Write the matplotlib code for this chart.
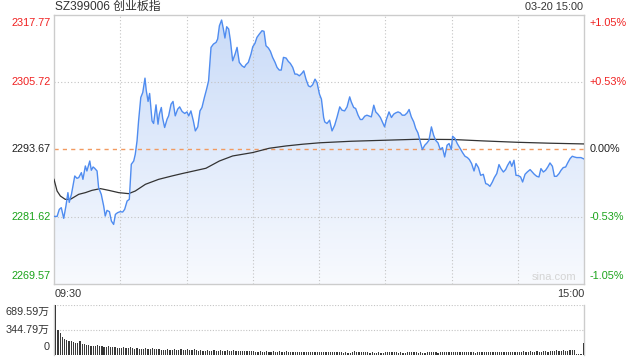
import numpy as np
import matplotlib
matplotlib.use("Agg")
import matplotlib.pyplot as plt
from matplotlib.colors import LinearSegmentedColormap
from matplotlib.patches import Polygon
import matplotlib.transforms as mtransforms

plt.rcParams['font.family'] = ['Liberation Sans', 'Noto Sans CJK SC', 'DejaVu Sans']

title = "SZ399006 创业板指"
stamp = "03-20 15:00"
prev_close = 2293.67
price_ticks = [2269.57, 2281.62, 2293.67, 2305.72, 2317.77]
price_tick_labels = ["2269.57", "2281.62", "2293.67", "2305.72", "2317.77"]
pct_tick_labels = ["-1.05%", "-0.53%", "0.00%", "+0.53%", "+1.05%"]
time_labels = ["09:30", "15:00"]

minute_idx = [
    0, 1.4, 2.4, 3.3, 4.4, 5.4, 6.3, 6.9, 7.9, 9.4, 10.4, 11.2, 12.4, 13.1, 14.2, 14.9, 16.2, 16.9, 17.7, 18.4,
    19.5, 20.2, 21.4, 22.5, 23.2, 24.0, 25.1, 26.0, 27.0, 27.8, 28.8, 30.0, 31.1, 32.0, 33.1, 34.1, 35.0, 36.1, 36.8, 37.6,
    38.3, 39.3, 40.2, 41.2, 41.8, 42.6, 43.3, 44.4, 45.1, 46.2, 47.1, 47.7, 48.6, 49.2, 50.1, 51.2, 51.9, 53.0, 53.9, 54.9,
    56.0, 56.9, 58.0, 59.2, 60.2, 61.0,
    62.0, 63.1, 64.0, 65.1, 66.1, 67.0, 68.1, 69.1, 70.0, 71.1, 72.2, 73.4, 74.1, 74.9, 75.9, 76.7, 77.4, 78.2, 79.1, 79.9,
    80.9, 82.0, 82.9, 83.9, 85.1, 86.2, 86.9, 88.0, 89.2, 90.0, 91.0, 91.9, 93.0, 94.2, 95.1, 96.0, 97.1, 98.0, 99.0, 100.1,
    101.0, 102.0, 102.9, 103.9, 105.1, 106.1, 107.0, 108.1, 109.1, 110.0, 111.1, 112.2, 113.1, 114.1, 115.2, 116.1, 117.1,
    118.2, 119.1, 120.2, 121.1, 122.1,
    122.6, 123.6, 124.8, 125.9, 127.1, 128.2, 129.4, 130.4, 131.6, 132.7, 133.9, 134.6, 135.7, 136.6, 137.7, 138.7, 139.6,
    140.7, 141.7, 142.9, 143.7, 144.8, 145.7, 146.7, 147.8, 148.7, 149.7, 150.5, 151.7, 152.8, 153.8, 154.7, 155.8, 156.8,
    157.7, 158.8, 159.9, 160.8, 161.8, 162.9, 163.8, 164.8, 165.9, 166.8, 167.9, 168.9, 169.8, 170.9, 171.9, 172.8, 173.9,
    174.9, 175.9, 176.9, 178.0, 178.9, 179.9,
    180.5, 181.6, 182.6, 183.9, 185.1, 186.1, 187.2, 188.1, 189.1, 190.2, 191.1, 192.2, 193.2, 194.4, 195.5, 196.4, 197.4,
    198.5, 199.4, 200.5, 201.5, 202.4, 203.5, 204.5, 205.4, 206.5, 207.3, 208.3, 209.2, 210.3, 211.3, 212.2, 213.3, 214.3,
    215.6, 216.6, 217.5, 218.6, 219.6, 220.5, 221.6, 222.6, 223.6, 224.6, 225.7, 226.6, 227.6, 228.7, 229.6, 230.6, 231.7,
    232.6, 233.7, 234.7, 235.6, 236.7, 237.7, 238.6, 240.0,
]

price = [
    2281.66, 2281.66, 2282.92, 2283.22, 2281.31, 2283.51, 2285.91, 2284.17, 2285.61, 2288.89,
    2288.47, 2288.60, 2289.49, 2288.29, 2290.68, 2289.78, 2291.57, 2289.91, 2290.50, 2290.27,
    2289.78, 2286.81, 2285.61, 2283.51, 2281.72, 2282.74, 2282.51, 2280.82, 2280.23, 2282.02,
    2282.33, 2282.51, 2282.44, 2282.92, 2284.41, 2284.71, 2290.98, 2291.57, 2292.77, 2295.16,
    2298.74, 2302.93, 2303.83, 2306.39, 2304.12, 2302.22, 2303.65, 2298.74, 2298.28, 2301.61,
    2298.15, 2299.94, 2301.14, 2299.22, 2297.56, 2299.05, 2299.64, 2301.73, 2302.22, 2299.64,
    2300.84, 2301.25, 2300.43, 2300.07, 2300.35, 2299.64,
    2300.53, 2298.74, 2296.95, 2297.67, 2300.53, 2301.14, 2302.93, 2304.42, 2305.91, 2311.89,
    2312.48, 2312.79, 2313.38, 2315.76, 2316.78, 2315.17, 2313.56, 2315.58, 2315.17, 2313.08,
    2309.49, 2310.69, 2311.89, 2309.21, 2308.60, 2308.31, 2308.78, 2309.21, 2310.69, 2312.00,
    2312.61, 2313.68, 2314.28, 2314.87, 2314.76, 2312.18, 2311.77, 2311.18, 2310.10, 2309.21,
    2308.31, 2307.83, 2307.83, 2310.10, 2309.98, 2309.38, 2309.03, 2308.31, 2307.11, 2307.11,
    2306.80, 2307.23, 2307.70, 2306.21, 2305.01, 2304.83, 2305.19, 2306.21, 2305.62, 2303.53,
    2302.63, 2299.35,
    2298.56, 2298.28, 2298.87, 2296.95, 2297.97, 2299.46, 2301.25, 2300.66, 2300.53, 2301.25,
    2303.04, 2302.15, 2301.14, 2300.96, 2299.76, 2298.99, 2298.99, 2299.58, 2299.76, 2299.58,
    2299.46, 2301.55, 2300.35, 2299.94, 2299.35, 2298.56, 2297.67, 2298.99, 2300.35, 2299.35,
    2299.94, 2300.17, 2300.35, 2300.17, 2299.76, 2299.76, 2300.17, 2300.78, 2299.46, 2298.56,
    2297.38, 2296.59, 2294.98, 2293.62, 2294.39, 2294.80, 2295.28, 2297.67, 2296.18, 2295.28,
    2294.80, 2293.62, 2293.97, 2292.29, 2294.39, 2294.69, 2293.62,
    2296.00, 2295.59, 2294.69, 2293.80, 2293.01, 2292.42, 2292.18, 2291.82, 2291.11, 2289.78,
    2291.11, 2290.39, 2289.01, 2289.19, 2287.52, 2287.40, 2287.04, 2287.81, 2288.60, 2289.32,
    2290.93, 2290.21, 2289.60, 2290.03, 2290.80, 2291.52, 2290.62, 2291.70, 2289.01, 2288.96,
    2288.71, 2287.81, 2289.19, 2289.60, 2290.03, 2289.60, 2289.19, 2288.83, 2288.71, 2290.21,
    2289.60, 2289.91, 2290.50, 2291.22, 2290.62, 2288.83, 2288.83, 2289.32, 2289.91, 2290.39,
    2290.50, 2291.22, 2292.00, 2292.42, 2292.29, 2292.18, 2292.18, 2292.18, 2291.93,
]

avg_minute = [0, 1.4, 2.9, 5.1, 7.4, 11.2, 14.2, 17.2, 21.0, 24.8, 29.3, 33.8, 36.8, 41.4, 47.4, 53.4, 58.0,
              68.8, 74.9, 80.9, 90.0, 97.5, 105.1, 112.6, 120.5, 134.6, 149.7, 164.8, 180.8, 194.4, 209.5,
              224.6, 240.0]
avg_price = [2288.29, 2286.20, 2285.30, 2284.71, 2284.71, 2285.61, 2285.91, 2286.32, 2286.63, 2286.32,
             2285.91, 2285.73, 2286.20, 2287.40, 2288.29, 2288.89, 2289.32, 2290.27, 2291.57, 2292.47,
             2293.08, 2293.85, 2294.26, 2294.57, 2294.83, 2295.10, 2295.28, 2295.46, 2295.41, 2295.16,
             2294.92, 2294.75, 2294.62]

vol_max = 689.59
vol_ticks = [0, 344.79, 689.59]
vol_tick_labels = ["0", "344.79万", "689.59万"]
volume = [
    689.59, 347, 300, 253, 220, 206, 197, 188, 174, 164, 160, 197,
    150, 145, 140, 135, 130, 128, 125, 140, 120, 118, 115, 112, 130, 110, 108, 105, 103, 100,
    98, 110, 95, 92, 105, 90, 88, 100, 86, 85, 84, 95, 82, 80, 92, 78, 76, 88, 75, 74, 73, 85, 72, 70, 82, 69, 68, 80, 67, 66,
    78, 65, 64, 76, 63, 62, 74, 61, 60, 72, 60, 59, 70, 58, 57, 68, 56, 55, 66, 55, 54, 64, 53, 52, 62, 51, 50, 60, 50, 49,
    58, 48, 47, 56, 46, 45, 54, 45, 44, 52, 44, 43, 50, 42, 42, 50, 41, 40, 48, 40, 40, 47, 39, 39, 46, 38, 38, 45, 38, 37,
    45, 37, 36, 44, 36, 36, 43, 35, 35, 42, 35, 34, 41, 34, 34, 40, 50, 38, 46, 36, 35, 44, 35, 34, 42, 34, 33, 41, 33, 33,
    40, 45, 38, 36, 44, 35, 34, 42, 34, 33, 48, 40, 36, 44, 35, 34, 42, 34, 33, 40, 36, 35, 43, 35, 34, 41, 36, 35, 42, 40,
    48, 42, 40, 46, 38, 37, 44, 36, 35, 42, 35, 34, 41, 36, 35, 43, 36, 35, 42, 38, 37, 45, 38, 37, 44, 40, 38, 46, 40, 39,
    48, 42, 40, 50, 44, 42, 52, 46, 44, 55, 48, 46, 58, 50, 48, 62, 55, 52, 66, 58, 56, 70, 62, 60, 74, 66, 64, 10, 8, 8, 160,
]

RED = "#f02020"
GREEN = "#1aa31a"
DARK = "#222222"
GRID = "#c4c4c4"
SPINE = "#cccccc"

W, H = 640, 360
fig = plt.figure(figsize=(6.4, 3.6), dpi=100)
L, R = 54 / W, 584 / W
ax = fig.add_axes([L, 1 - 284 / H, R - L, (284 - 14.5) / H])
axv = fig.add_axes([L, 1 - 355 / H, R - L, (355 - 305) / H])

ymin, ymax = price_ticks[0], price_ticks[-1]
ax.set_xlim(0, 240)
ax.set_ylim(ymin, ymax)

# gradient fill under price line
x = np.array(minute_idx)
y = np.array(price)
cmap = LinearSegmentedColormap.from_list("fillg", ["#f8fafe", "#c9dbf8"])
grad = np.linspace(0, 1, 256).reshape(-1, 1)
img = ax.imshow(grad, extent=[0, 240, ymin, ymax], origin="lower", cmap=cmap,
                aspect="auto", zorder=1)
poly_pts = np.vstack([np.column_stack([x, y]), [[x[-1], ymin], [x[0], ymin]]])
poly = Polygon(poly_pts, closed=True, transform=ax.transData, facecolor="none", edgecolor="none")
ax.add_patch(poly)
img.set_clip_path(poly)

# grid
for v in [price_ticks[1], price_ticks[3]]:
    ax.axhline(v, color=GRID, lw=0.8, ls=(0, (1, 2)), zorder=2)
for m in range(30, 240, 30):
    ax.axvline(m, color=GRID, lw=0.8, ls=(0, (1, 2)), zorder=2)
ax.axhline(prev_close, color="#f29a60", lw=1.0, ls=(0, (3, 3)), zorder=2)

ax.plot(x, y, color="#4f8cf0", lw=1.0, zorder=4)
ax.plot(avg_minute, avg_price, color="#333333", lw=0.9, zorder=3)

ax.set_xticks([])
ax.set_yticks([])
for s in ax.spines.values():
    s.set_color(SPINE)
    s.set_linewidth(1)

fs = 7.8
tr_l = mtransforms.blended_transform_factory(ax.transAxes, ax.transData)
lab_colors = [GREEN, GREEN, DARK, RED, RED]
vas = ["bottom", "center", "center", "center", "top"]
for v, lab, pl, c, va in zip(price_ticks, price_tick_labels, pct_tick_labels, lab_colors, vas):
    yy = v
    if va == "top":
        yy = v - 0.6
    if va == "bottom":
        yy = v + 0.5
    ax.text(-0.006, yy, lab, transform=tr_l, ha="right", va=va, color=c, fontsize=fs)
    ax.text(1.011, yy, pl, transform=tr_l, ha="left", va=va, color=c, fontsize=fs)

fig.text(55 / W, 1 - 7 / H, title, ha="left", va="center", fontsize=8.6, color="#333333")
fig.text(583 / W, 1 - 7 / H, stamp, ha="right", va="center", fontsize=7.8, color="#333333")
fig.text(55 / W, 1 - 294 / H, time_labels[0], ha="left", va="center", fontsize=7.8, color="#333333")
fig.text(584 / W, 1 - 294 / H, time_labels[1], ha="right", va="center", fontsize=7.8, color="#333333")
ax.text(0.985, 0.008, "sina.com", transform=ax.transAxes, ha="right", va="bottom",
        fontsize=8, color="#d4d4d4", zorder=5)

# volume panel
axv.set_xlim(-0.8, 240.4)
axv.set_ylim(0, vol_max)
axv.bar(np.arange(len(volume)), volume, width=0.55, color="#3a3a3a", linewidth=0, zorder=3)
for v in vol_ticks[1:]:
    axv.axhline(v, color=GRID, lw=0.8, ls=(0, (1, 1.5)), zorder=1)
axv.set_xticks([])
axv.set_yticks([])
for k, s in axv.spines.items():
    s.set_color(SPINE)
    s.set_linewidth(1)
axv.spines["top"].set_visible(False)
axv.spines["bottom"].set_visible(False)
tr_v = mtransforms.blended_transform_factory(axv.transAxes, axv.transData)
axv.text(-0.008, vol_ticks[2] - 20, vol_tick_labels[2], transform=tr_v, ha="right", va="top", fontsize=fs, color="#333333")
axv.text(-0.008, vol_ticks[1], vol_tick_labels[1], transform=tr_v, ha="right", va="center", fontsize=fs, color="#333333")
axv.text(-0.008, vol_ticks[0] + 40, vol_tick_labels[0], transform=tr_v, ha="right", va="bottom", fontsize=fs, color="#333333")

fig.savefig("out.png", dpi=100)
